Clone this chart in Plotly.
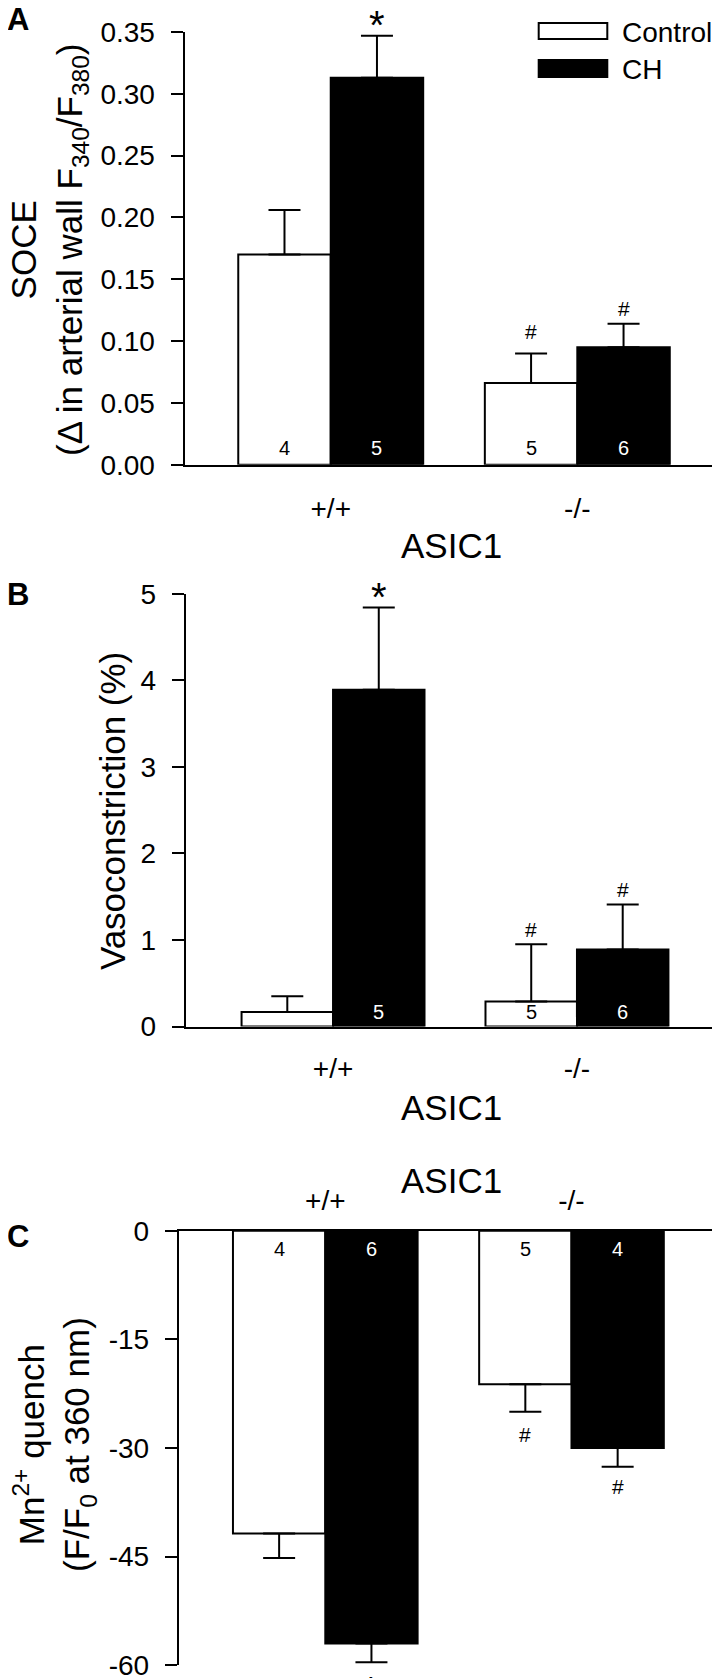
import plotly.graph_objects as go

W, H = 720, 1678
FONT = "Liberation Sans, Arial, sans-serif"

# ── Data ──────────────────────────────────────────────────────────────────────

groups = ["+/+", "-/-"]

# A: SOCE (delta F340/F380)
soce_control = [0.170, 0.066]
soce_control_err = [0.036, 0.024]
soce_ch = [0.313, 0.095]
soce_ch_err = [0.034, 0.019]
soce_n_control = [4, 5]
soce_n_ch = [5, 6]
soce_sig_control = [None, "#"]
soce_sig_ch = ["*", "#"]

# B: vasoconstriction (%)
vaso_control = [0.17, 0.29]
vaso_control_err = [0.18, 0.66]
vaso_ch = [3.89, 0.89]
vaso_ch_err = [0.95, 0.52]
vaso_n_control = [None, 5]
vaso_n_ch = [5, 6]
vaso_sig_control = [None, "#"]
vaso_sig_ch = ["*", "#"]

# C: Mn2+ quench (F/F0 at 360 nm)
mn_control = [-41.8, -21.2]
mn_control_err = [3.4, 3.8]
mn_ch = [-57.0, -30.0]
mn_ch_err = [2.6, 2.6]
mn_n_control = [4, 5]
mn_n_ch = [6, 4]
mn_sig_control = [None, "#"]
mn_sig_ch = ["*", "#"]

soce_ticks = [0, 0.05, 0.10, 0.15, 0.20, 0.25, 0.30, 0.35]
vaso_ticks = [0, 1, 2, 3, 4, 5]
mn_ticks = [0, -15, -30, -45, -60]


# ── Helpers ───────────────────────────────────────────────────────────────────

def fx(p):
    return p / W


def fy(p):
    return 1 - p / H


panels = [
    dict(key="", letter="A", ctrl=soce_control, ctrl_err=soce_control_err,
         ch=soce_ch, ch_err=soce_ch_err, n_ctrl=soce_n_control, n_ch=soce_n_ch,
         sig_ctrl=soce_sig_control, sig_ch=soce_sig_ch,
         ticks=soce_ticks, ticktext=[f"{t:.2f}" for t in soce_ticks],
         yrange=[0, 0.35], xrange=[-0.593, 1.605],
         xpx=(176.5, 718.5), ypx=(24, 456.7), down=False,
         n_shift=17, sig_gap={"#": [22, 15]}, letter_y=11,
         xtitle_y=537.5, xlab_standoff=18),
    dict(key="2", letter="B", ctrl=vaso_control, ctrl_err=vaso_control_err,
         ch=vaso_ch, ch_err=vaso_ch_err, n_ctrl=vaso_n_control, n_ch=vaso_n_ch,
         sig_ctrl=vaso_sig_control, sig_ch=vaso_sig_ch,
         ticks=vaso_ticks, ticktext=[str(t) for t in vaso_ticks],
         yrange=[0, 5], xrange=[-0.604, 1.613],
         xpx=(177.7, 718.5), ypx=(585.7, 1018.6), down=False,
         n_shift=15, sig_gap={"#": [15, 15]}, letter_y=586.5,
         xtitle_y=1099.4, xlab_standoff=16),
    dict(key="3", letter="C", ctrl=mn_control, ctrl_err=mn_control_err,
         ch=mn_ch, ch_err=mn_ch_err, n_ctrl=mn_n_control, n_ch=mn_n_ch,
         sig_ctrl=mn_sig_control, sig_ch=mn_sig_ch,
         ticks=mn_ticks, ticktext=[str(t) for t in mn_ticks],
         yrange=[-60, 0], xrange=[-0.595, 1.602],
         xpx=(170.8, 711.7), ypx=(1222.8, 1657.2), down=True,
         n_shift=-18, sig_gap={"#": [23, 20]}, letter_y=1228,
         xtitle_y=1172.3, xlab_standoff=8),
]

fig = go.Figure()
annotations = []
OFFSET = 0.1875

for p in panels:
    xa, ya = "x" + p["key"], "y" + p["key"]
    for name, vals, errs, color in [("Control", p["ctrl"], p["ctrl_err"], "white"),
                                    ("CH", p["ch"], p["ch_err"], "black")]:
        zeros = [0] * len(vals)
        err = dict(type="data", symmetric=False,
                   array=errs if not p["down"] else zeros,
                   arrayminus=zeros if not p["down"] else errs,
                   thickness=2, width=16, color="black")
        fig.add_trace(go.Bar(
            x=groups, y=vals, name=name, xaxis=xa, yaxis=ya,
            marker=dict(color=color, line=dict(color="black", width=2)),
            error_y=err, showlegend=False, offsetgroup=name,
        ))

    # n labels inside bars
    for gi in range(len(groups)):
        for side, n_list, col in [(-1, p["n_ctrl"], "black"), (1, p["n_ch"], "white")]:
            if n_list[gi] is None:
                continue
            annotations.append(dict(
                x=gi + side * OFFSET, y=0, xref=xa, yref=ya, text=str(n_list[gi]),
                showarrow=False, xanchor="center", yanchor="middle", yshift=p["n_shift"],
                font=dict(size=20, color=col)))

    # significance markers
    sign = -1 if p["down"] else 1
    for gi in range(len(groups)):
        for si, (side, sigs, vals, errs) in enumerate(
                [(-1, p["sig_ctrl"], p["ctrl"], p["ctrl_err"]),
                 (1, p["sig_ch"], p["ch"], p["ch_err"])]):
            s = sigs[gi]
            if s is None:
                continue
            end = vals[gi] + sign * errs[gi]
            if s == "*":
                shift = sign * 20 - 9
                size = 40
            else:
                shift = sign * p["sig_gap"]["#"][si]
                size = 21
            annotations.append(dict(
                x=gi + side * OFFSET, y=end, xref=xa, yref=ya, text=s,
                showarrow=False, xanchor="center", yanchor="middle", yshift=shift,
                font=dict(size=size, color="black")))

    # panel letter
    annotations.append(dict(
        x=0, y=fy(p["letter_y"]), xref="paper", yref="paper", text=f"<b>{p['letter']}</b>",
        showarrow=False, xanchor="left", yanchor="middle", xshift=-3, font=dict(size=31)))

    # x-axis title
    annotations.append(dict(
        x=fx(443), y=fy(p["xtitle_y"]), xref="paper", yref="paper", text="ASIC1",
        showarrow=False, xanchor="center", yanchor="middle", font=dict(size=35)))

    axis_common = dict(showline=True, linewidth=2, linecolor="black", showgrid=False,
                       zeroline=False, automargin=False, tickfont=dict(size=28, color="black"))
    fig.update_layout(**{
        "xaxis" + p["key"]: dict(
            axis_common, domain=[fx(p["xpx"][0]), fx(p["xpx"][1])], range=p["xrange"],
            anchor=ya, ticks="", side="top" if p["down"] else "bottom",
            ticklabelstandoff=p["xlab_standoff"]),
        "yaxis" + p["key"]: dict(
            axis_common, domain=[fy(p["ypx"][1]), fy(p["ypx"][0])], range=p["yrange"],
            anchor=xa, ticks="outside", ticklen=12, tickwidth=2, tickcolor="black",
            tickvals=p["ticks"], ticktext=p["ticktext"], ticklabelstandoff=10),
    })

# y-axis titles (rotated)
ytitle = dict(xref="paper", yref="paper", textangle=-90, showarrow=False,
              xanchor="center", yanchor="middle", font=dict(size=35))
annotations += [
    dict(ytitle, x=fx(41), y=fy(242),
         text="SOCE<br>(\u0394 in arterial wall F<sub>340</sub>/F<sub>380</sub>)"),
    dict(ytitle, x=fx(104.5), y=fy(803.6), text="Vasoconstriction (%)"),
    dict(ytitle, x=fx(46), y=fy(1437),
         text="Mn<sup>2+</sup> quench<br>(F/F<sub>0</sub> at 360 nm)"),
]

# legend (drawn by hand to get the wide keys)
shapes = [
    dict(type="rect", xref="paper", yref="paper", x0=fx(530.7), x1=fx(599.3),
         y0=fy(31), y1=fy(15), line=dict(color="black", width=2), fillcolor="white"),
    dict(type="rect", xref="paper", yref="paper", x0=fx(530.7), x1=fx(599.3),
         y0=fy(69), y1=fy(52), line=dict(color="black", width=2), fillcolor="black"),
]
annotations += [
    dict(x=fx(612), y=fy(24.5), xref="paper", yref="paper", text="Control",
         showarrow=False, xanchor="left", yanchor="middle", font=dict(size=28)),
    dict(x=fx(612), y=fy(62), xref="paper", yref="paper", text="CH",
         showarrow=False, xanchor="left", yanchor="middle", font=dict(size=28)),
]

fig.update_layout(
    width=W, height=H,
    margin=dict(l=0, r=0, t=0, b=0),
    paper_bgcolor="white", plot_bgcolor="white",
    font=dict(family=FONT, color="black"),
    barmode="group", bargap=0.25, bargroupgap=0,
    showlegend=False,
    annotations=annotations, shapes=shapes,
)

fig.write_html("out.html")
